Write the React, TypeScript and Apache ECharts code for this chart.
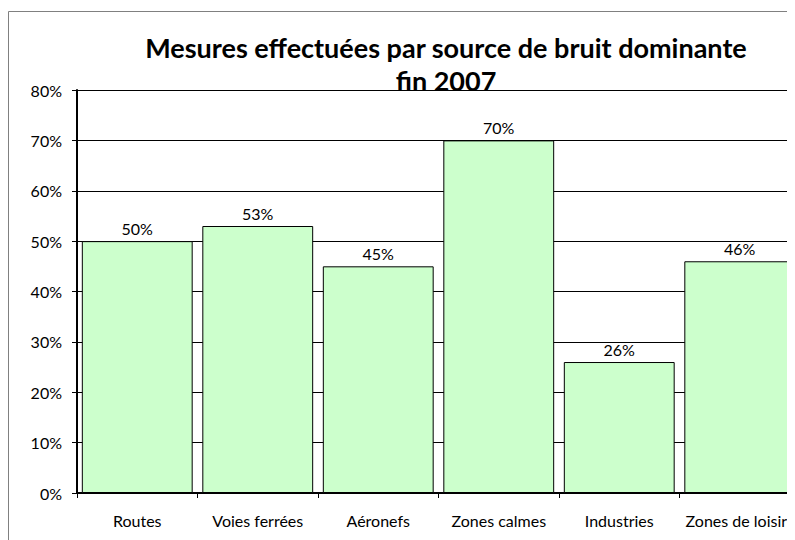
import React, { useEffect, useRef } from "react";
import * as echarts from "echarts";

const categories = ["Routes", "Voies ferrées", "Aéronefs", "Zones calmes", "Industries", "Zones de loisirs"];
const values = [50, 53, 45, 70, 26, 46];
const titleLines = ["Mesures effectuées par source de bruit dominante", "fin 2007"];

const FONT = "Lato, 'DejaVu Sans', sans-serif";

export default function App() {
  const ref = useRef<HTMLDivElement>(null);
  useEffect(() => {
    if (!ref.current) return;
    document.documentElement.style.overflow = "hidden";
    const chart = echarts.init(ref.current, undefined, { renderer: "svg" });
    chart.setOption({
      animation: false,
      backgroundColor: "#ffffff",
      graphic: [
        {
          type: "rect",
          shape: { x: 0.5, y: 3.5, width: 1200, height: 1200 },
          style: { fill: "none", stroke: "#808080", lineWidth: 1 },
          silent: true,
          z: -10,
        },
        {
          type: "text",
          x: 438,
          y: 23,
          z: 10,
          style: {
            text: titleLines.join("\n"),
            fontFamily: FONT,
            fontSize: 27,
            fontWeight: "bold",
            fill: "#000",
            lineHeight: 33,
            align: "center",
            verticalAlign: "top",
          },
        },
      ],
      grid: { left: 69, width: 723, top: 82, bottom: 47, containLabel: false, outerBoundsMode: "none" },
      xAxis: {
        type: "category",
        data: categories,
        axisLine: { show: true, lineStyle: { color: "#000", width: 2 } },
        axisTick: { show: true, alignWithLabel: false, length: 5, lineStyle: { color: "#000" } },
        axisLabel: { color: "#000", fontSize: 16, fontFamily: FONT, margin: 19, interval: 0 },
        splitLine: { show: false },
      },
      yAxis: {
        type: "value",
        min: 0,
        max: 80,
        interval: 10,
        axisLine: { show: true, lineStyle: { color: "#000", width: 2 } },
        axisTick: { show: true, length: 5, lineStyle: { color: "#000" } },
        axisLabel: { color: "#000", fontSize: 16, fontFamily: FONT, margin: 15, formatter: "{value}%" },
        splitLine: { show: true, lineStyle: { color: "#000", width: 1 } },
      },
      series: [
        {
          type: "bar",
          data: values,
          barCategoryGap: "8%",
          itemStyle: { color: "#CCFFCC", borderColor: "#000", borderWidth: 1 },
          label: {
            show: true,
            position: "top",
            distance: 5,
            color: "#000",
            fontSize: 16,
            fontFamily: FONT,
            formatter: "{c}%",
          },
        },
      ],
    });
    return () => chart.dispose();
  }, []);
  return <div ref={ref} style={{ width: 787, height: 532 }} />;
}
